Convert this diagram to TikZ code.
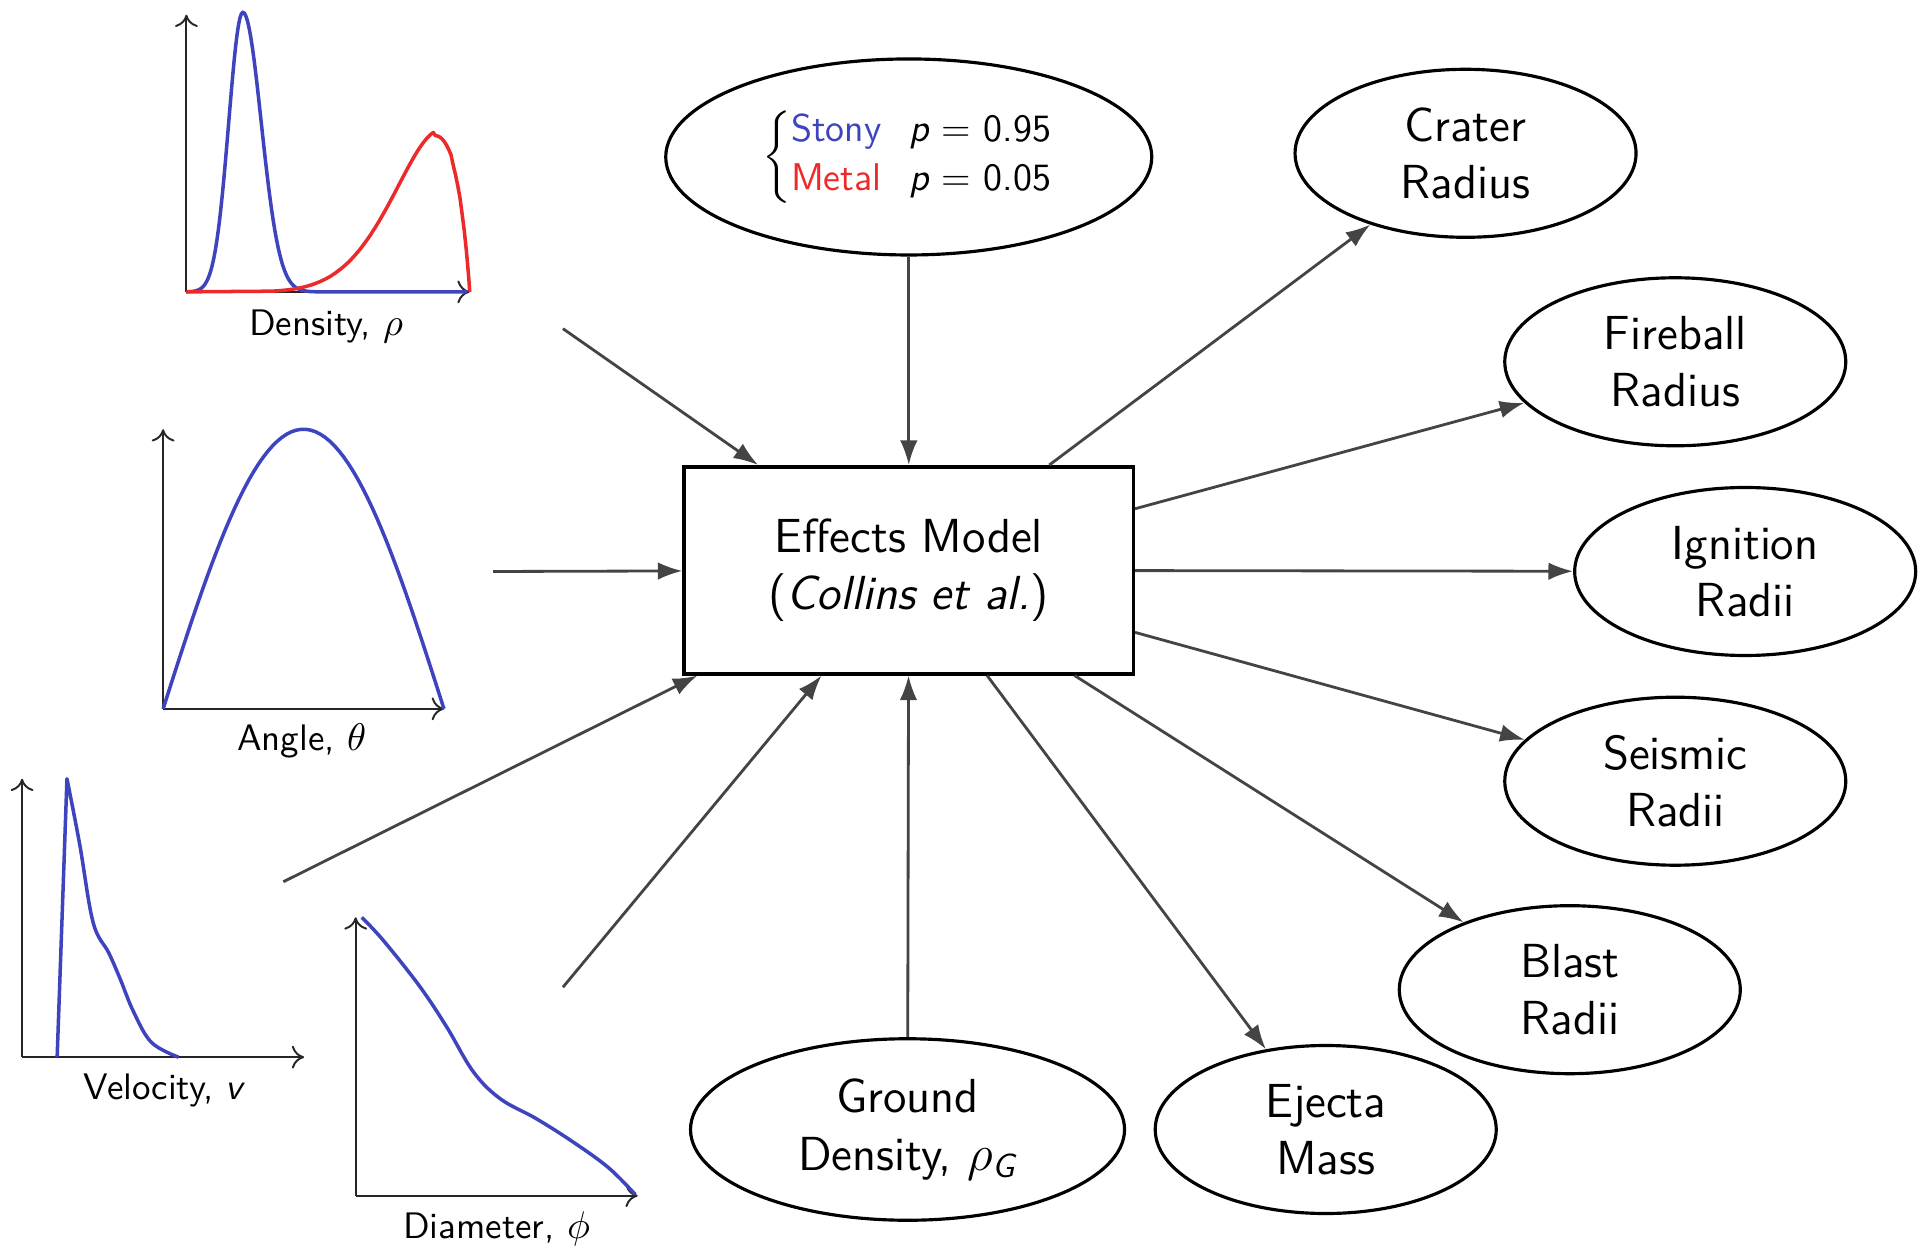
\documentclass[tikz,border=0pt]{standalone}
\usepackage{amsmath}
\usepackage{fontspec}
\usetikzlibrary{arrows.meta,shapes.geometric}
\definecolor{plotblue}{RGB}{62,68,190}
\definecolor{plotred}{RGB}{236,42,42}
\definecolor{linkgray}{RGB}{68,68,68}
\begin{document}
\begin{tikzpicture}[x=0.12264mm, y=-0.12264mm, >={Latex[length=7pt,width=5pt]},
	font=\sffamily\fontsize{13.6}{16.3}\selectfont,
	outcome/.style={ellipse, draw, line width=0.9pt, align=center, inner sep=1pt, minimum width=3.41cm, minimum height=1.68cm},
	link/.style={->, draw=linkgray, line width=0.8pt},
	plotaxis/.style={-{To[length=3.5pt,width=6.5pt]}, line width=0.55pt, black!85},
	plotcurve/.style={line width=1pt, line join=round},
	plotlabel/.style={font=\sffamily\fontsize{10.5}{12}\selectfont}]
	\useasboundingbox (0,0) rectangle (1568,1023);

	% model and its inputs
	\node[draw, line width=1pt, minimum width=4.49cm, minimum height=2.07cm, align=center] (model) at (741,465) {Effects Model\\(\textit{Collins et al.})};
	\node[ellipse, draw, line width=0.9pt, minimum width=4.86cm, minimum height=1.96cm, inner sep=0pt] (type) at (741,128)
		{\fontsize{11}{13}\selectfont$\left\{\begin{tabular}{@{}l@{\hspace{8pt}}l@{}}\textcolor{plotblue}{Stony} & {\itshape p} = 0.95\\[1pt] \textcolor{plotred}{Metal} & {\itshape p} = 0.05\end{tabular}\right.$};
	\node[outcome, minimum width=4.34cm, minimum height=1.815cm] (ground) at (740,921) {Ground\\Density, $\rho_{\text{\itshape G}}$};

	% outcomes
	\node[outcome] (crater) at (1195,125) {Crater\\Radius};
	\node[outcome] (fireball) at (1366,295) {Fireball\\Radius};
	\node[outcome] (ignition) at (1423,466) {Ignition\\Radii};
	\node[outcome] (seismic) at (1366,637) {Seismic\\Radii};
	\node[outcome] (blast) at (1280,807) {Blast\\Radii};
	\node[outcome] (ejecta) at (1081,921) {Ejecta\\Mass};

	\path
		(459,268) coordinate (densarr)
		(402,466) coordinate (anglearr)
		(231,719) coordinate (velarr)
		(459,805) coordinate (diamarr)
		(266,266) node[plotlabel] (denslabel) {Density, $\rho$}
		(246,604) node[plotlabel] (anglelabel) {Angle, $\theta$}
		(133,889) node[plotlabel] (vellabel) {Velocity, {\itshape v}}
		(405,1002) node[plotlabel] (diamlabel) {Diameter, $\phi$}
	;

	% density
	\draw[plotaxis] (152,238) -- (152,12);
	\draw[plotaxis] (152,238) -- (383,238);
	\draw[plotcurve, plotblue] plot[domain=152:198, samples=40] (\x,{238-228*exp(-((\x-198)/11.5)^2/2)})
		-- plot[domain=198:262, samples=50] (\x,{238-228*exp(-((\x-198)/15)^2/2)}) -- (381,238);
	\draw[plotcurve, plotred] (152,238) -- plot[domain=0.3:0.998, samples=90] ({152+231*\x},{238-127*(\x^6.5)*((1-\x)^0.9)/0.0644}) -- (383,238);

	% angle
	\draw[plotaxis] (133,578) -- (133,350);
	\draw[plotaxis] (133,578) -- (362,578);
	\draw[plotcurve, plotblue] plot[domain=0:180, samples=60] ({133+1.2722*\x},{578-228*sin(\x)});

	% velocity
	\draw[plotaxis] (18,862) -- (18,635);
	\draw[plotaxis] (18,862) -- (248,862);
	\draw[plotcurve, plotblue] (46.6,862) -- plot[smooth, tension=0.6] coordinates {(54.6,635) (64.9,688) (75.9,752) (88.7,777)
		(97.9,798) (108.9,825) (123.5,850) (145.5,862)};

	% diameter
	\draw[plotaxis] (290,975) -- (290,748);
	\draw[plotaxis] (290,975) -- (520,975);
	\draw[plotcurve, plotblue] plot[smooth, tension=0.6] coordinates {(295,748) (312.7,767) (342,804) (364,837) (386,874)
		(408,896) (437,912) (467,931) (496,952) (518,974)};

	% connectors
	\draw[link] (type) -- (model);
	\draw[link] (ground) -- (model);
	\foreach \src in {densarr,anglearr,velarr,diamarr}
		\draw[link] (\src) -- (model);
	\foreach \dst in {crater,fireball,ignition,seismic,blast,ejecta}
		\draw[link] (model) -- (\dst);
\end{tikzpicture}
\end{document}
